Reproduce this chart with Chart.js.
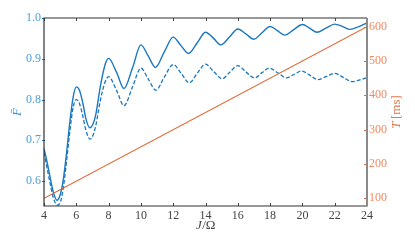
<!DOCTYPE html>
<html><head><meta charset="utf-8">
<script src="https://cdn.jsdelivr.net/npm/chart.js@4/dist/chart.umd.min.js"></script>
<style>html,body{margin:0;padding:0;background:#fff}</style>
</head><body><canvas id="c" width="415" height="249"></canvas>
<script>
// ---- data ----
const solidJ = [4.0,4.2,4.4,4.6,4.8,5.0,5.2,5.4,5.6,5.8,6.0,6.2,6.4,6.6,6.83,7.0,7.2,7.5,7.8,8.0,8.5,8.95,9.5,10.0,10.45,10.9,11.45,12.0,12.45,12.95,13.5,14.0,14.5,14.95,15.5,16.0,16.5,17.0,17.5,18.0,18.45,18.9,19.45,20.0,20.45,20.9,21.45,22.0,22.5,22.95,23.5,24.0];
const solidF = [0.680,0.645,0.605,0.570,0.553,0.566,0.605,0.670,0.745,0.805,0.831,0.822,0.792,0.752,0.731,0.737,0.762,0.835,0.888,0.901,0.866,0.827,0.880,0.934,0.907,0.879,0.917,0.953,0.934,0.913,0.940,0.965,0.950,0.934,0.954,0.973,0.961,0.948,0.964,0.979,0.969,0.958,0.971,0.984,0.975,0.965,0.975,0.985,0.979,0.972,0.979,0.988];
const dashedJ = [4.0,4.2,4.4,4.6,4.85,5.05,5.2,5.4,5.6,5.8,6.0,6.2,6.4,6.6,6.85,7.0,7.2,7.5,7.8,8.0,8.5,8.95,9.5,10.0,10.45,10.93,11.45,12.0,12.5,13.0,13.5,14.0,14.5,15.05,15.5,16.0,16.5,17.04,17.5,17.95,18.5,19.0,19.5,19.95,20.45,20.95,21.5,22.0,22.55,23.08,23.55,24.0];
const dashedF = [0.670,0.630,0.590,0.556,0.541,0.553,0.585,0.650,0.722,0.780,0.800,0.790,0.760,0.724,0.703,0.709,0.735,0.800,0.845,0.856,0.822,0.785,0.833,0.877,0.851,0.823,0.855,0.886,0.864,0.841,0.865,0.887,0.869,0.851,0.867,0.883,0.868,0.853,0.866,0.877,0.865,0.853,0.862,0.870,0.860,0.849,0.857,0.864,0.854,0.844,0.848,0.854];
const timeJ = [4, 24];
const timeT = [100, 600];
const xTicks = [4,6,8,10,12,14,16,18,20,22,24];
const fTicks = [0.6,0.7,0.8,0.9,1.0];
const tTicks = [100,200,300,400,500,600];

const BLUE = '#1a77c0', ORANGE = '#e2622f';
const FONT = 'Liberation Serif';
const pts = (xs, ys) => xs.map((x, i) => ({x: x, y: ys[i]}));

const frame = {
  id: 'frame',
  afterDraw(chart) {
    const c = chart.ctx, a = chart.chartArea;
    const sx = chart.scales.x, sf = chart.scales.yF, st = chart.scales.yT;
    c.save();
    // x ticks (inward, bottom and top)
    c.strokeStyle = '#444'; c.lineWidth = 1;
    xTicks.forEach(v => {
      const px = Math.round(sx.getPixelForValue(v)) + 0.5;
      c.beginPath(); c.moveTo(px, a.bottom); c.lineTo(px, a.bottom - 3); c.stroke();
      c.beginPath(); c.moveTo(px, a.top); c.lineTo(px, a.top + 3); c.stroke();
    });
    // left ticks
    c.strokeStyle = BLUE;
    fTicks.forEach(v => {
      const py = Math.round(sf.getPixelForValue(v)) + 0.5;
      c.beginPath(); c.moveTo(a.left - 2, py); c.lineTo(a.left + 1, py); c.stroke();
    });
    // right ticks
    c.strokeStyle = ORANGE;
    tTicks.forEach(v => {
      const py = Math.round(st.getPixelForValue(v)) + 0.5;
      c.beginPath(); c.moveTo(a.right - 3, py); c.lineTo(a.right, py); c.stroke();
    });
    // frame
    c.strokeStyle = '#333'; c.lineWidth = 1.2;
    c.beginPath();
    c.moveTo(a.right, a.top); c.lineTo(a.left, a.top); c.lineTo(a.left, a.bottom); c.lineTo(a.right, a.bottom);
    c.stroke();
    c.strokeStyle = '#8a8a8a'; c.lineWidth = 2;
    c.beginPath(); c.moveTo(a.right, a.top); c.lineTo(a.right, a.bottom + 0.6); c.stroke();

    const cy = (a.top + a.bottom) / 2;
    // left title
    c.save();
    c.translate(18, cy); c.rotate(-Math.PI / 2);
    c.fillStyle = '#3d93d4'; c.textAlign = 'center'; c.textBaseline = 'middle';
    c.font = 'italic 13px ' + FONT;
    c.fillText('F\u0304', 0, 0);
    c.restore();
    // right title
    c.save();
    c.translate(397, cy); c.rotate(-Math.PI / 2);
    c.fillStyle = '#e07a50'; c.textBaseline = 'middle';
    c.font = 'italic 13px ' + FONT;
    const w1 = c.measureText('T').width;
    c.font = '13px ' + FONT;
    const w2 = c.measureText('\u2009[ms]').width;
    let x0 = -(w1 + w2) / 2;
    c.font = 'italic 13px ' + FONT; c.textAlign = 'left';
    c.fillText('T', x0, 0);
    c.font = '13px ' + FONT;
    c.fillText('\u2009[ms]', x0 + w1, 0);
    c.restore();
    // x title
    c.fillStyle = '#444'; c.textBaseline = 'middle'; c.textAlign = 'left';
    c.font = 'italic 13px ' + FONT;
    const j1 = c.measureText('J').width;
    c.font = '13px ' + FONT;
    const j2 = c.measureText('/\u03A9').width;
    const cx = (a.left + a.right) / 2 - (j1 + j2) / 2;
    c.font = 'italic 13px ' + FONT;
    c.fillText('J', cx, 226);
    c.font = '13px ' + FONT;
    c.fillText('/\u03A9', cx + j1 + 0.5, 226);
    c.restore();
  }
};

new Chart(document.getElementById('c'), {
  type: 'line',
  data: { datasets: [
    { label: 'T', data: pts(timeJ, timeT), yAxisID: 'yT', borderColor: ORANGE, borderWidth: 1.2, pointRadius: 0, order: 0 },
    { label: 'F solid', data: pts(solidJ, solidF), yAxisID: 'yF', borderColor: BLUE, borderWidth: 1.4, pointRadius: 0, cubicInterpolationMode: 'monotone', order: 1 },
    { label: 'F dashed', data: pts(dashedJ, dashedF), yAxisID: 'yF', borderColor: BLUE, borderWidth: 1.3, borderDash: [4, 2], pointRadius: 0, cubicInterpolationMode: 'monotone', order: 2 }
  ]},
  options: {
    responsive: false, animation: false,
    layout: { padding: { top: 18, left: 0, right: 0, bottom: 0 } },
    plugins: { legend: { display: false }, tooltip: { enabled: false } },
    scales: {
      x: { type: 'linear', min: 4, max: 24,
        afterBuildTicks: s => { s.ticks = xTicks.map(v => ({ value: v })); },
        afterFit: s => { s.height = 43; },
        grid: { display: false, drawTicks: false }, border: { display: false },
        ticks: { padding: 3, color: '#444', font: { family: FONT, size: 12 }, maxRotation: 0, callback: v => String(v) } },
      yF: { type: 'linear', position: 'left', min: 0.539, max: 1.0,
        afterBuildTicks: s => { s.ticks = fTicks.map(v => ({ value: v })); },
        afterFit: s => { s.width = 44; },
        grid: { display: false, drawTicks: false }, border: { display: false },
        ticks: { padding: 3, color: '#4a9fdc', font: { family: FONT, size: 12 }, callback: v => v.toFixed(1) } },
      yT: { type: 'linear', position: 'right', min: 77.6, max: 625.3,
        afterBuildTicks: s => { s.ticks = tTicks.map(v => ({ value: v })); },
        afterFit: s => { s.width = 48; },
        grid: { display: false, drawTicks: false }, border: { display: false },
        ticks: { padding: 2, color: '#ec8a62', font: { family: FONT, size: 12 }, callback: v => String(v) } }
    }
  },
  plugins: [frame]
});
</script>
</body></html>
